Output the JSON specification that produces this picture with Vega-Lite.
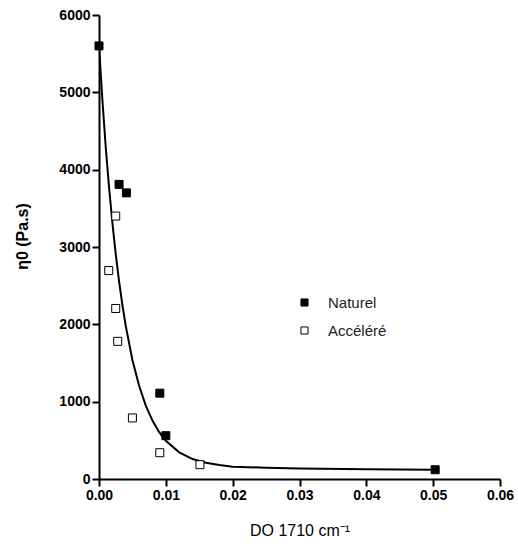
{
  "$schema": "https://vega.github.io/schema/vega-lite/v6.json",
  "width": 401,
  "height": 464,
  "autosize": {"type": "none"},
  "padding": {"left": 99, "top": 15, "right": 18, "bottom": 65},
  "background": "white",
  "config": {
    "view": {"stroke": null},
    "font": "Liberation Sans",
    "axis": {
      "grid": false,
      "domainColor": "black",
      "domainWidth": 2,
      "tickColor": "black",
      "tickWidth": 2,
      "tickSize": 7,
      "labelColor": "black",
      "labelFont": "Liberation Sans",
      "labelFontSize": 14,
      "labelFontWeight": "bold",
      "labelFlush": false,
      "labelOverlap": false,
      "titleColor": "black",
      "titleFont": "Liberation Sans"
    }
  },
  "datasets": {
    "pts": [
      {"do": 0.0, "eta": 5600, "serie": "Naturel"},
      {"do": 0.003, "eta": 3810, "serie": "Naturel"},
      {"do": 0.0041, "eta": 3700, "serie": "Naturel"},
      {"do": 0.0091, "eta": 1110, "serie": "Naturel"},
      {"do": 0.0100, "eta": 560, "serie": "Naturel"},
      {"do": 0.0503, "eta": 120, "serie": "Naturel"},
      {"do": 0.0025, "eta": 3400, "serie": "Accéléré"},
      {"do": 0.00145, "eta": 2695, "serie": "Accéléré"},
      {"do": 0.0025, "eta": 2205, "serie": "Accéléré"},
      {"do": 0.0028, "eta": 1780, "serie": "Accéléré"},
      {"do": 0.005, "eta": 790, "serie": "Accéléré"},
      {"do": 0.0091, "eta": 340, "serie": "Accéléré"},
      {"do": 0.0151, "eta": 185, "serie": "Accéléré"}
    ],
    "fit": [
      {"do": 0.0, "eta": 5600},
      {"do": 0.0005, "eta": 4910},
      {"do": 0.001, "eta": 4300},
      {"do": 0.0015, "eta": 3775},
      {"do": 0.002, "eta": 3315},
      {"do": 0.0025, "eta": 2910},
      {"do": 0.003, "eta": 2560},
      {"do": 0.0035, "eta": 2250},
      {"do": 0.004, "eta": 1980},
      {"do": 0.005, "eta": 1540},
      {"do": 0.006, "eta": 1205},
      {"do": 0.007, "eta": 950},
      {"do": 0.008, "eta": 755},
      {"do": 0.009, "eta": 605},
      {"do": 0.010, "eta": 495},
      {"do": 0.012, "eta": 345},
      {"do": 0.014, "eta": 258},
      {"do": 0.016, "eta": 210},
      {"do": 0.018, "eta": 180},
      {"do": 0.020, "eta": 160},
      {"do": 0.025, "eta": 145},
      {"do": 0.030, "eta": 135},
      {"do": 0.040, "eta": 125},
      {"do": 0.050, "eta": 120}
    ]
  },
  "layer": [
    {
      "data": {"name": "fit"},
      "mark": {"type": "line", "color": "black", "strokeWidth": 2, "clip": true},
      "encoding": {
        "x": {"field": "do", "type": "quantitative", "scale": {"domain": [0, 0.06], "nice": false},
          "axis": {"values": [0, 0.01, 0.02, 0.03, 0.04, 0.05, 0.06], "format": ".2f", "title": "DO 1710 cm⁻¹", "titleFontSize": 16, "titleFontWeight": "normal", "titlePadding": 20, "labelPadding": 2}},
        "y": {"field": "eta", "type": "quantitative", "scale": {"domain": [0, 6000], "nice": false},
          "axis": {"values": [0, 1000, 2000, 3000, 4000, 5000, 6000], "format": "d", "title": "η0 (Pa.s)", "titleFontSize": 16, "titleFontWeight": "bold", "titlePadding": 28, "titleY": 221, "labelPadding": 2}}
      }
    },
    {
      "data": {"name": "pts"},
      "mark": {"type": "point", "shape": "square", "size": 64, "filled": true, "stroke": "black", "strokeWidth": 1, "opacity": 1},
      "encoding": {
        "x": {"field": "do", "type": "quantitative"},
        "y": {"field": "eta", "type": "quantitative"},
        "fill": {"field": "serie", "type": "nominal",
          "scale": {"domain": ["Naturel", "Accéléré"], "range": ["black", "white"]},
          "legend": {"title": null, "orient": "none", "legendX": 198, "legendY": 280,
            "symbolType": "square", "symbolSize": 50, "symbolStrokeColor": "black", "symbolStrokeWidth": 1,
            "labelFontSize": 15, "labelFont": "Liberation Sans", "labelColor": "#222", "labelOffset": 16,
            "rowPadding": 12, "padding": 0}}
      }
    }
  ]
}
